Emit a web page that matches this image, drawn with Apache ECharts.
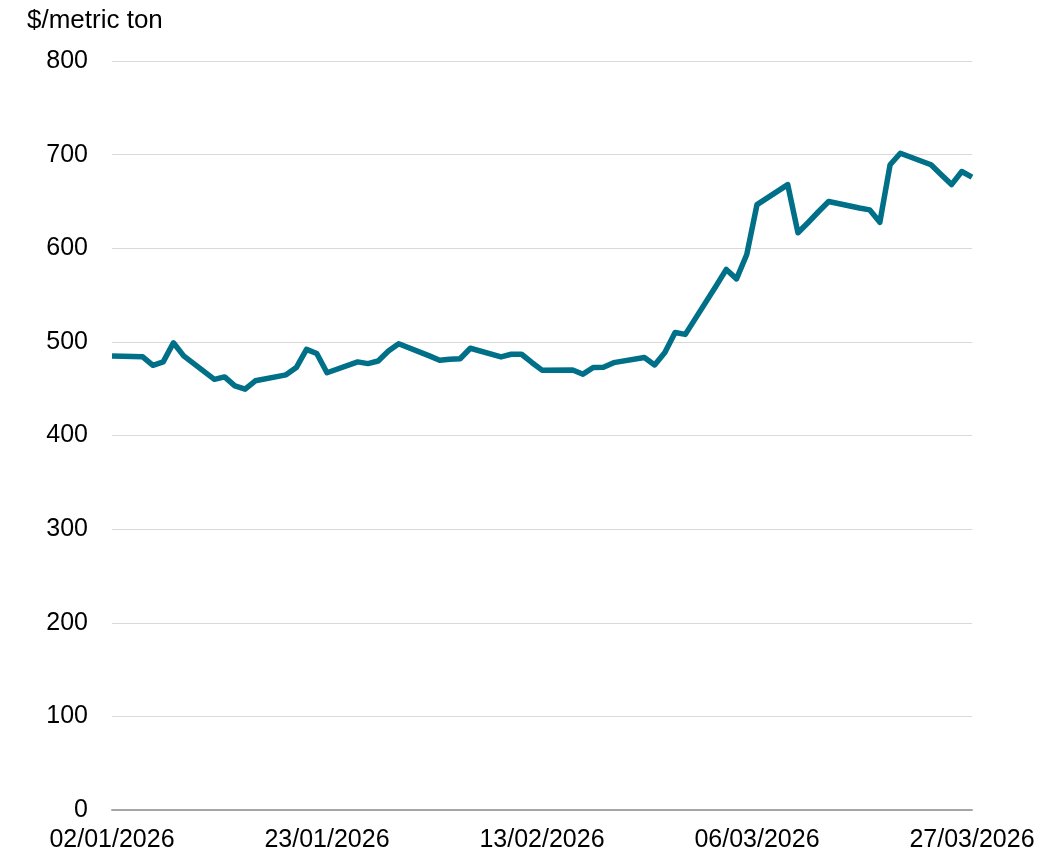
<!DOCTYPE html>
<html>
<head>
<meta charset="utf-8">
<script src="https://cdn.jsdelivr.net/npm/echarts@6/dist/echarts.min.js"></script>
<style>
  html, body { margin: 0; padding: 0; background: #fff; }
  #chart { width: 1060px; height: 853px; }
</style>
</head>
<body>
<div id="chart"></div>
<script>
// first day of the series (Friday), then one entry per calendar day
const startDate = new Date(2026, 0, 2)
const dayCount = 85

// trading-day prices, keyed by day offset from 02/01/2026 ($/metric ton)
const priceDays = [0, 3, 4, 5, 6, 7, 10, 11, 12, 13, 14, 17, 18, 19, 20, 21, 24, 25, 26, 27, 28,
    31, 32, 33, 34, 35, 38, 39, 40, 41, 42, 45, 46, 47, 48, 49, 52, 53, 54, 55, 56,
    59, 60, 61, 62, 63, 66, 67, 68, 69, 70, 73, 74, 75, 76, 77, 80, 81, 82, 83, 84]
const priceValues = [485, 484, 475, 478.6, 499, 485, 460, 462.6, 453, 449.5, 458.4, 464.8, 472.6, 492, 487.5, 467, 478.6, 476.8, 479.6, 490.3, 498,
    485, 480.4, 481.5, 482, 493.2, 483.9, 486.8, 486.8, 478, 469.8, 470, 465.5, 472.6, 473, 477.8, 483.3, 475.4, 488.6, 510, 508,
    559.6, 577.4, 567.3, 593.3, 646.6, 668, 616.5, 627.5, 639, 650, 643, 641, 627.7, 689.2, 701.5, 689.2, 678.6, 668, 682, 676]

const yTicks = { min: 0, max: 800, interval: 100 }

function fmt(d) {
    const dd = String(d.getDate()).padStart(2, '0')
    const mm = String(d.getMonth() + 1).padStart(2, '0')
    return dd + '/' + mm + '/' + d.getFullYear()
}

const categories = []
const series = []
for (let i = 0; i < dayCount; i++) {
    const d = new Date(startDate.getFullYear(), startDate.getMonth(), startDate.getDate() + i)
    categories.push(fmt(d))
    series.push(null)
}
priceDays.forEach((day, i) => { series[day] = priceValues[i] })

const chart = echarts.init(document.getElementById('chart'))
const font = 'Liberation Sans, Arial, sans-serif'

chart.setOption({
    animation: false,
    title: {
        text: '$/metric ton',
        left: 22,
        top: 3,
        textStyle: { fontFamily: font, fontSize: 26, fontWeight: 'normal', color: '#000' }
    },
    grid: { left: 112, right: 88, top: 61, bottom: 41, containLabel: false },
    xAxis: {
        type: 'category',
        data: categories,
        boundaryGap: false,
        axisLine: { lineStyle: { color: '#a6a6a6', width: 2 } },
        axisTick: { show: false },
        axisLabel: {
            interval: 20,
            margin: 18,
            color: '#000',
            fontFamily: font,
            fontSize: 25
        },
        splitLine: { show: false }
    },
    yAxis: {
        type: 'value',
        min: yTicks.min,
        max: yTicks.max,
        interval: yTicks.interval,
        axisLine: { show: false },
        axisTick: { show: false },
        axisLabel: { margin: 24, padding: [3, 0, 0, 0], color: '#000', fontFamily: font, fontSize: 25 },
        splitLine: { lineStyle: { color: '#d9d9d9', width: 1 } }
    },
    series: [
        {
            type: 'line',
            data: series,
            connectNulls: true,
            showSymbol: false,
            lineStyle: { color: '#006f88', width: 5.5, join: 'round' }
        }
    ]
})
</script>
</body>
</html>
